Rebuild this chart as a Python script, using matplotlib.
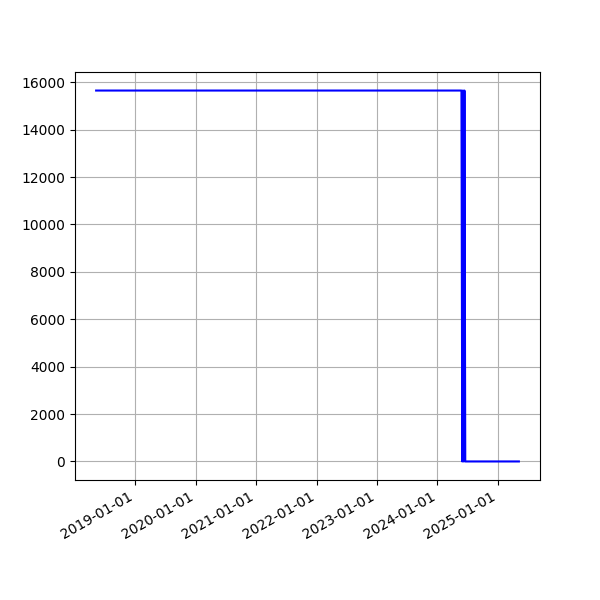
import pandas as pd
import matplotlib.pyplot as plt
import matplotlib.dates as mdates

# 資料
dates = ['2018-05-10', '2024-05-26', '2024-05-31', '2024-06-04', '2024-06-09',
         '2024-06-13', '2024-06-18', '2025-05-08']
values = [15650, 15650, 0, 15650, 0, 15650, 0, 0]

dates = pd.to_datetime(dates)

fig, ax = plt.subplots(figsize=(6, 6), dpi=100)
ax.plot(dates, values, color='blue', linewidth=1.5)
ax.grid(True)
ax.xaxis.set_major_locator(mdates.YearLocator())
ax.xaxis.set_major_formatter(mdates.DateFormatter('%Y-%m-%d'))
fig.autofmt_xdate()
plt.savefig('out.png')
